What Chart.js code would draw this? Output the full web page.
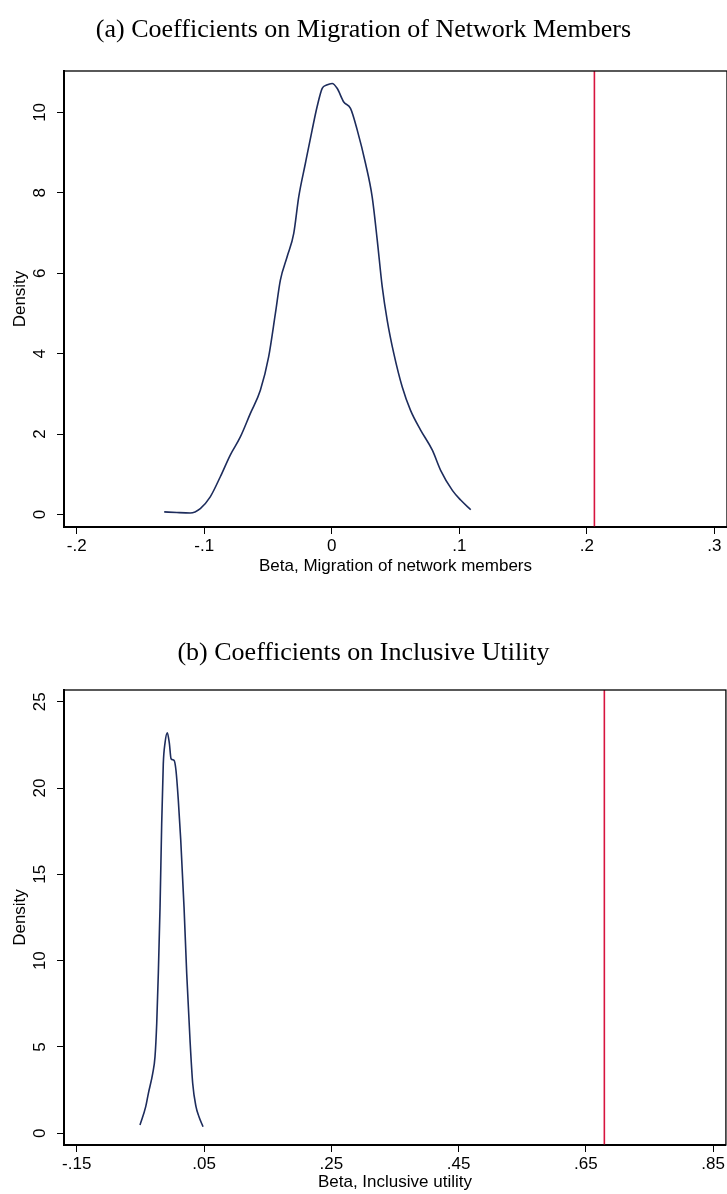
<!DOCTYPE html>
<html>
<head>
<meta charset="utf-8">
<script src="https://cdn.jsdelivr.net/npm/chart.js"></script>
<style>
  body { margin: 0; background: #fff; }
  canvas { display: block; }
</style>
</head>
<body>
<canvas id="chartA" width="727" height="600"></canvas>
<canvas id="chartB" width="727" height="594"></canvas>
<script>
// panel (a): migration of network members
const betaA = [-0.1314, -0.1215, -0.111, -0.1031, -0.0953, -0.0874, -0.0796, -0.0717, -0.0639, -0.056,
  -0.0495, -0.0442, -0.0403, -0.035, -0.0298, -0.0259, -0.0207, -0.0154, -0.0115, -0.0075,
  -0.004, 0.0003, 0.0042, 0.0094, 0.0147, 0.02, 0.0265, 0.0317, 0.0357, 0.0396,
  0.0435, 0.0487, 0.0553, 0.0618, 0.0697, 0.0789, 0.0854, 0.0946, 0.1011, 0.109];
const densityA = [0.065, 0.05, 0.04, 0.15, 0.44, 0.94, 1.48, 1.93, 2.51, 3.09,
  3.92, 5.0, 5.83, 6.41, 6.99, 7.9, 8.73, 9.56, 10.14, 10.6,
  10.68, 10.72, 10.6, 10.26, 10.1, 9.56, 8.73, 7.9, 6.82, 5.66,
  4.83, 4.0, 3.17, 2.59, 2.1, 1.6, 1.1, 0.6, 0.36, 0.12];
const trueBetaA = 0.206;
const xTicksA = [-0.2, -0.1, 0, 0.1, 0.2, 0.3];
const xTickLabelsA = ['-.2', '-.1', '0', '.1', '.2', '.3'];
const yTicksA = [0, 2, 4, 6, 8, 10];
const xRangeA = [-0.21, 0.31];
const yRangeA = [-0.31, 11.03];

// panel (b): inclusive utility
const betaB = [-0.0506, -0.0416, -0.0375, -0.0306, -0.027, -0.0243, -0.0218, -0.0191, -0.0165, -0.014,
  -0.0113, -0.0077, -0.0045, -0.0018, 0.0029, 0.006, 0.0096, 0.0134, 0.0186, 0.0228,
  0.028, 0.0322, 0.0374, 0.0421, 0.0484];
const densityB = [0.48, 1.54, 2.3, 3.47, 4.44, 6.37, 9.26, 13.1, 17.95, 21.4,
  22.6, 23.2, 22.6, 21.7, 21.6, 21.0, 19.3, 17.0, 13.1, 9.26,
  5.4, 2.9, 1.54, 0.96, 0.38];
const trueBetaB = 0.679;
const xTicksB = [-0.15, 0.05, 0.25, 0.45, 0.65, 0.85];
const xTickLabelsB = ['-.15', '.05', '.25', '.45', '.65', '.85'];
const yTicksB = [0, 5, 10, 15, 20, 25];
const xRangeB = [-0.17, 0.87];
const yRangeB = [-0.68, 25.68];

const NAVY = '#1d2c5c';
const RED = '#d7143f';
const SANS = 'Liberation Sans, Arial, sans-serif';

// stata style box round the plot region
const framePlugin = {
  id: 'frame',
  afterDatasetsDraw(chart) {
    const a = chart.chartArea;
    const ctx = chart.ctx;
    ctx.save();
    ctx.strokeStyle = '#000';
    ctx.lineWidth = 1.3;
    ctx.strokeRect(a.left, a.top, a.right - a.left, a.bottom - a.top);
    ctx.restore();
  }
};

function makeChart(id, o) {
  const points = o.beta.map((b, i) => ({x: b, y: o.density[i]}));
  new Chart(document.getElementById(id), {
    type: 'scatter',
    data: {
      datasets: [{
        data: points,
        showLine: true,
        borderColor: NAVY,
        borderWidth: 1.6,
        pointRadius: 0,
        cubicInterpolationMode: 'monotone'
      }, {
        data: [{x: o.trueBeta, y: o.yRange[0]}, {x: o.trueBeta, y: o.yRange[1]}],
        showLine: true,
        borderColor: RED,
        borderWidth: 1.6,
        pointRadius: 0
      }]
    },
    plugins: [framePlugin],
    options: {
      responsive: false,
      animation: false,
      layout: {padding: 0},
      plugins: {
        legend: {display: false},
        tooltip: {enabled: false},
        title: {
          display: true,
          text: o.title,
          color: '#000',
          font: {family: 'Liberation Serif, Times New Roman, serif', size: 26, weight: 'normal'},
          padding: o.titlePad
        }
      },
      scales: {
        x: {
          type: 'linear',
          min: o.xRange[0],
          max: o.xRange[1],
          afterBuildTicks: s => { s.ticks = o.xTicks.map(v => ({value: v})); },
          afterFit: s => { s.height = o.xAxisHeight; },
          ticks: {
            autoSkip: false,
            maxRotation: 0,
            padding: 2,
            color: '#000',
            font: {family: SANS, size: 17},
            callback: (v, i) => o.xTickLabels[i]
          },
          grid: {drawOnChartArea: false, tickLength: 7, color: '#000', lineWidth: 1},
          border: {color: '#000', width: 2},
          title: {
            display: true,
            text: o.xTitle,
            color: '#000',
            font: {family: SANS, size: 17},
            padding: {top: 0, bottom: o.xTitlePad}
          }
        },
        y: {
          type: 'linear',
          min: o.yRange[0],
          max: o.yRange[1],
          afterBuildTicks: s => { s.ticks = o.yTicks.map(v => ({value: v})); },
          afterFit: s => { s.width = 64; },
          ticks: {
            minRotation: 90,
            maxRotation: 90,
            crossAlign: 'center',
            padding: 7.5,
            color: '#000',
            font: {family: SANS, size: 17},
            callback: v => String(v)
          },
          grid: {drawOnChartArea: false, tickLength: 7, color: '#000', lineWidth: 1},
          border: {color: '#000', width: 2},
          title: {
            display: true,
            text: 'Density',
            color: '#000',
            font: {family: SANS, size: 17},
            padding: {top: 10, bottom: 0}
          }
        }
      }
    }
  });
}

makeChart('chartA', {
  title: '(a) Coefficients on Migration of Network Members',
  titlePad: {top: 14.4, bottom: 25.4},
  xTitle: 'Beta, Migration of network members',
  xTitlePad: 23.8,
  xAxisHeight: 73,
  beta: betaA, density: densityA, trueBeta: trueBetaA,
  xTicks: xTicksA, xTickLabels: xTickLabelsA, yTicks: yTicksA,
  xRange: xRangeA, yRange: yRangeA
});

makeChart('chartB', {
  title: '(b) Coefficients on Inclusive Utility',
  titlePad: {top: 37.4, bottom: 21.4},
  xTitle: 'Beta, Inclusive utility',
  xTitlePad: 1.8,
  xAxisHeight: 49,
  beta: betaB, density: densityB, trueBeta: trueBetaB,
  xTicks: xTicksB, xTickLabels: xTickLabelsB, yTicks: yTicksB,
  xRange: xRangeB, yRange: yRangeB
});
</script>
</body>
</html>
